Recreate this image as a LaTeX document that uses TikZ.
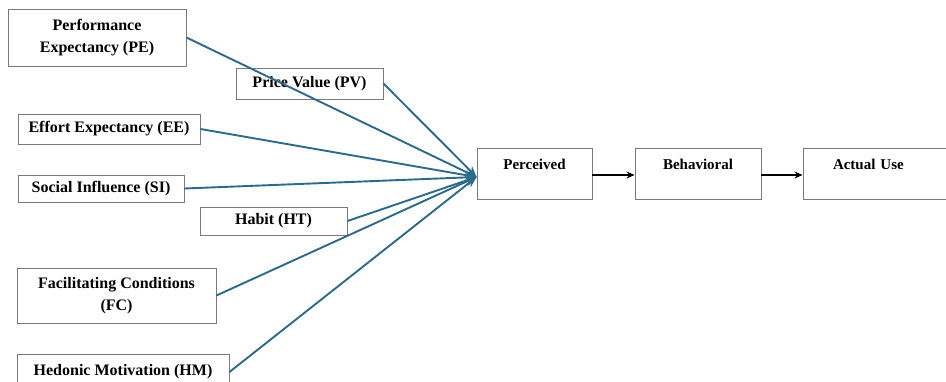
\documentclass[tikz,border=0pt]{standalone}
\usepackage{fontspec}
\setmainfont{Liberation Serif}
\usetikzlibrary{arrows.meta}
\definecolor{linkblue}{HTML}{2B6A88}
\definecolor{boxgray}{HTML}{7A7A7A}

\begin{document}
\begin{tikzpicture}[x=1pt, y=-1pt,
  every node/.style={align=center},
  factor/.style={draw=boxgray, line width=0.9pt, inner sep=0pt,
    font=\fontsize{16}{22.5}\selectfont\bfseries},
  stage/.style={draw=boxgray, line width=0.9pt, inner xsep=0pt, inner ysep=5pt,
    text height=16pt, text depth=25pt, font=\fontsize{15}{18}\selectfont\bfseries},
  link/.style={draw=linkblue, line width=1.9pt, -{Stealth[length=11pt, width=9pt]}},
  flow/.style={draw=black, line width=1.4pt, -{Stealth[length=8pt, width=7pt]}}]
\useasboundingbox (0,0) rectangle (946,381);
% factors
\node [factor, minimum width=178pt, minimum height=57pt] (pe) at (97,37.5) {Performance\\Expectancy (PE)};
\node [factor, minimum width=147pt, minimum height=31pt] (pv) at (309.5,83.5) {Price Value (PV)};
\node [factor, minimum width=182pt, minimum height=30pt] (ee) at (109,129) {Effort Expectancy (EE)};
\node [factor, minimum width=166pt, minimum height=27pt] (si) at (101,188.5) {Social Influence (SI)};
\node [factor, minimum width=147pt, minimum height=28pt] (ht) at (273.5,221) {Habit (HT)};
\node [factor, minimum width=199pt, minimum height=55pt] (fc) at (116.5,295.5) {Facilitating Conditions\\(FC)};
\node [factor, minimum width=212pt, minimum height=36pt] (hm) at (123,372) {Hedonic Motivation (HM)};
% stages
\node [stage, minimum width=115pt] (perc) at (534.5,173.5) {Perceived};
\node [stage, minimum width=126pt] (behav) at (698,173.5) {Behavioral};
\node [stage, inner xsep=30pt, text width=90pt, align=left] (use) at (878,173.5) {Actual Use};
\coordinate (hub) at ([yshift=-3.5pt]perc.west);
% links
\foreach \f in {pe,pv,ee,si,ht,fc,hm}
  \draw [link] (\f.east) -- (hub);
\draw [flow] ([yshift=-1.5pt]perc.east) -- ([yshift=-1.5pt]behav.west);
\draw [flow] ([yshift=-1.5pt]behav.east) -- ([yshift=-1.5pt]use.west);
\end{tikzpicture}
\end{document}
